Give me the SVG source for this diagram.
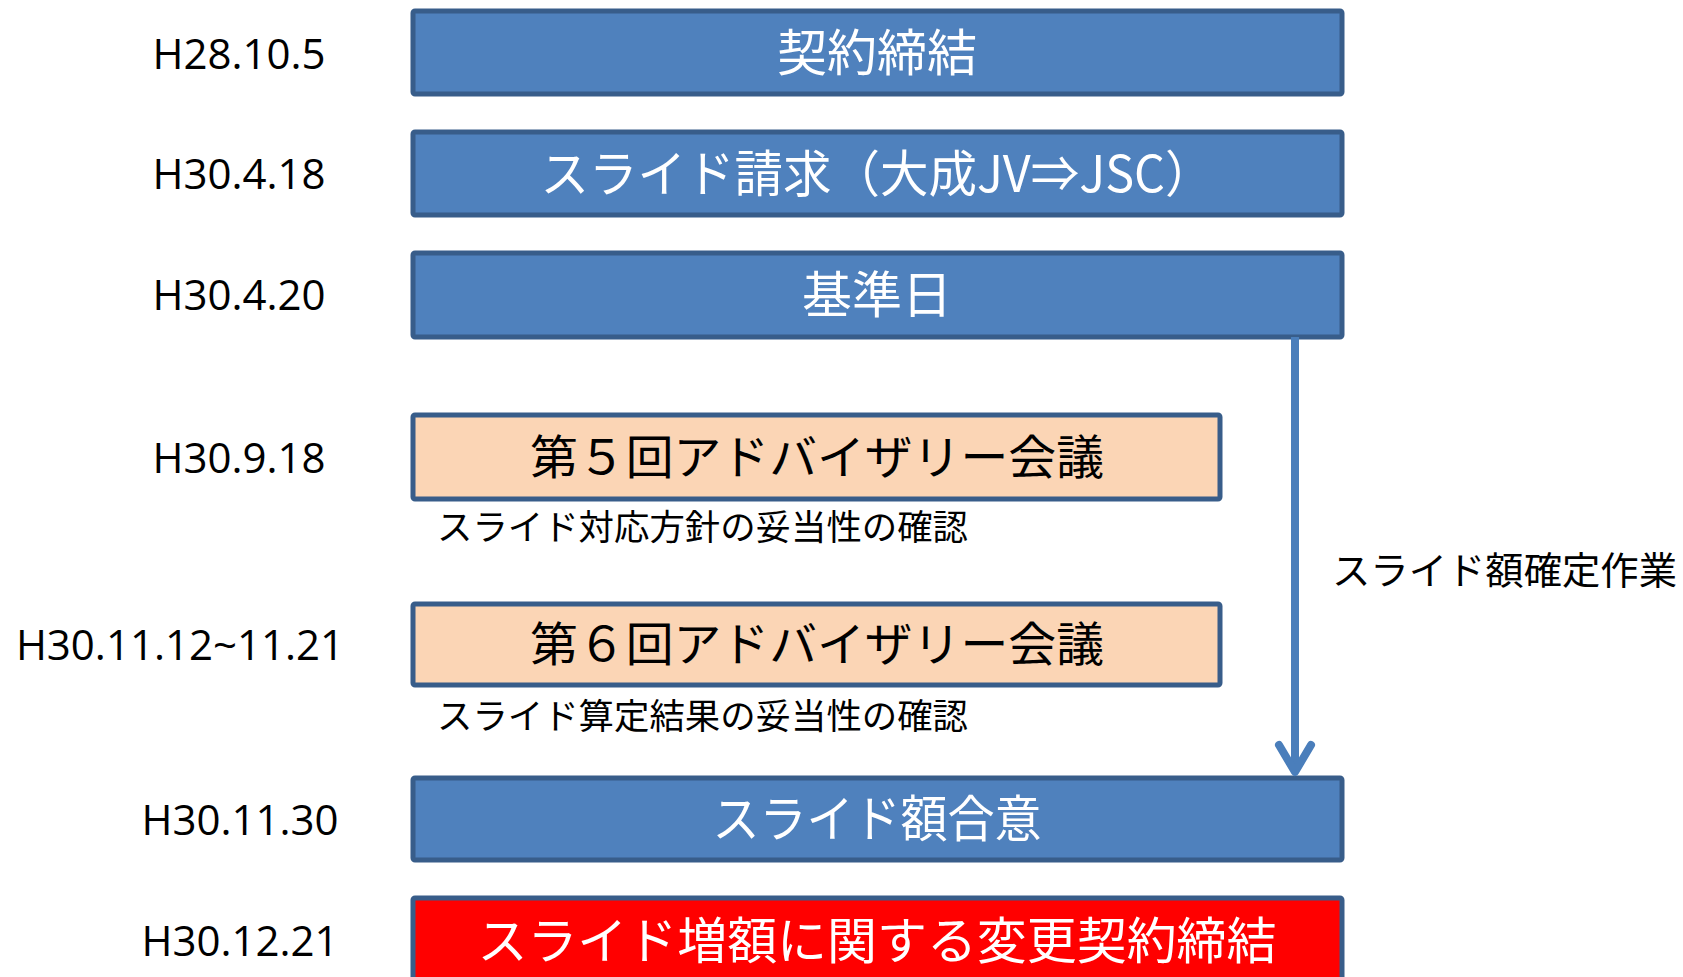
<svg xmlns="http://www.w3.org/2000/svg" width="1683" height="977" viewBox="0 0 1683 977">
<style>
.blue{fill:#4F81BD;stroke:#385D8A;stroke-width:5}
.peach{fill:#FBD5B5;stroke:#385D8A;stroke-width:5}
.red{fill:#FF0000;stroke:#385D8A;stroke-width:5}
.date{font-family:"Open Sans","Liberation Sans",sans-serif;font-size:42px;fill:#000;text-anchor:middle}
.tw{font-family:"Noto Sans CJK JP",sans-serif;font-size:50px;fill:#fff;text-anchor:middle}
.tb{font-family:"Noto Sans CJK JP",sans-serif;font-size:47px;fill:#000;text-anchor:middle}
.sub{font-family:"Noto Sans CJK JP",sans-serif;font-size:35px;fill:#000}
.conn{fill:none;stroke:#4A7EBB;stroke-width:8}
</style>
<g id="dates">
<text class="date" x="239" y="69">H28.10.5</text>
<text class="date" x="239" y="189">H30.4.18</text>
<text class="date" x="239" y="310">H30.4.20</text>
<text class="date" x="239" y="473">H30.9.18</text>
<text class="date" x="180" y="660">H30.11.12~11.21</text>
<text class="date" x="240" y="835">H30.11.30</text>
<text class="date" x="240" y="956">H30.12.21</text>
</g>
<g id="n1"><rect class="blue" x="413" y="11" width="929" height="83" rx="2"/><text class="tw" x="877" y="71">契約締結</text></g>
<g id="n2"><rect class="blue" x="413" y="132" width="929" height="83" rx="2"/><text class="tw" x="877" y="192" textLength="673" lengthAdjust="spacingAndGlyphs">スライド請求（大成JV⇒JSC）</text></g>
<g id="n3"><rect class="blue" x="413" y="253" width="929" height="84" rx="2"/><text class="tw" x="877" y="313">基準日</text></g>
<g id="n4"><rect class="peach" x="413" y="415" width="807" height="84" rx="2"/><text class="tb" x="817" y="474" textLength="574" lengthAdjust="spacingAndGlyphs">第５回アドバイザリー会議</text></g>
<text class="sub" x="437" y="540" textLength="531" lengthAdjust="spacingAndGlyphs">スライド対応方針の妥当性の確認</text>
<g id="n5"><rect class="peach" x="413" y="604" width="807" height="81" rx="2"/><text class="tb" x="817" y="661" textLength="574" lengthAdjust="spacingAndGlyphs">第６回アドバイザリー会議</text></g>
<text class="sub" x="437" y="729" textLength="531" lengthAdjust="spacingAndGlyphs">スライド算定結果の妥当性の確認</text>
<g id="n6"><rect class="blue" x="413" y="778" width="929" height="82" rx="2"/><text class="tw" x="877" y="837" textLength="329" lengthAdjust="spacingAndGlyphs">スライド額合意</text></g>
<g id="n7"><rect class="red" x="413" y="898" width="929" height="86" rx="2"/><text class="tw" x="877" y="959" textLength="799" lengthAdjust="spacingAndGlyphs">スライド増額に関する変更契約締結</text></g>
<g id="connectors">
<line class="conn" x1="1295" y1="337" x2="1295" y2="772"/>
<polyline class="conn" points="1279,745 1295,772 1311,745" stroke-linecap="round" stroke-linejoin="round"/>
<text class="sub" x="1332" y="584" font-size="38" style="font-size:38px" textLength="345" lengthAdjust="spacingAndGlyphs">スライド額確定作業</text>
</g>
</svg>
